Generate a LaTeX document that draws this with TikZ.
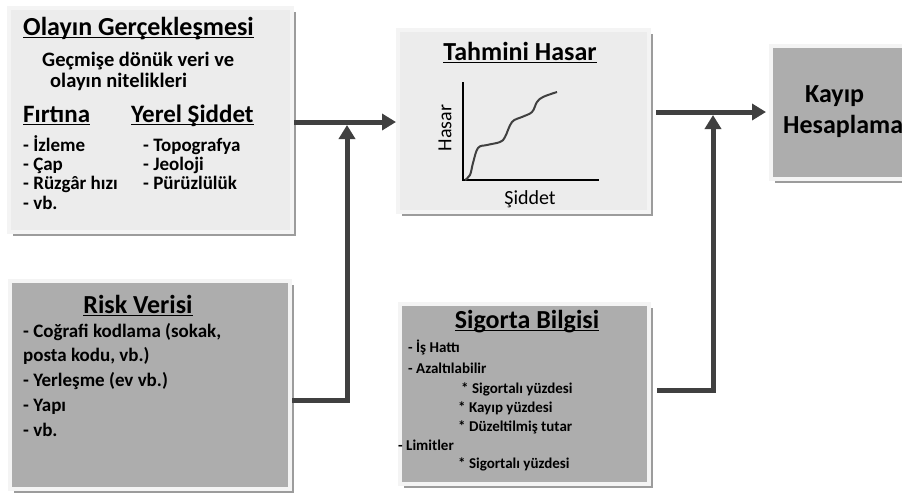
\documentclass[tikz,border=0pt]{standalone}
\usepackage{fontspec}
\setmainfont{Carlito}
\newcommand{\ulbar}[1]{\setbox0\hbox{#1}\rlap{\rule[-3.4pt]{\wd0}{1.8pt}}\box0}
\usetikzlibrary{arrows.meta,shadows}
\definecolor{boxlight}{HTML}{ECECEC}
\definecolor{boxdark}{HTML}{ADADAD}
\definecolor{boxrim}{HTML}{F4F4F4}
\definecolor{boxshade}{HTML}{9C9C9C}
\definecolor{flowgray}{HTML}{404040}
\pgfkeys{tikz/infobox/.style={rectangle, draw=boxrim, line width=4pt, inner sep=0pt,
                                  drop shadow={fill=boxshade, opacity=1, shadow xshift=4pt, shadow yshift=-4pt}}}
\pgfkeys{tikz/flow/.style={draw=flowgray, line width=5pt, -{Triangle[length=14pt,width=16pt]}}}
\pgfkeys{tikz/ttl/.style={anchor=base west, inner sep=0pt, font=\fontsize{26}{30}\selectfont\bfseries}}
\pgfkeys{tikz/cttl/.style={anchor=base, inner sep=0pt, font=\fontsize{26}{30}\selectfont\bfseries}}
\pgfkeys{tikz/hdr/.style={anchor=base west, inner sep=0pt, font=\fontsize{25}{29}\selectfont\bfseries}}
\pgfkeys{tikz/sub/.style={anchor=base west, inner sep=0pt, font=\fontsize{20.5}{24}\selectfont\bfseries}}
\pgfkeys{tikz/itm/.style={anchor=base west, inner sep=0pt, font=\fontsize{19}{22}\selectfont\bfseries}}
\pgfkeys{tikz/ritm/.style={anchor=base west, inner sep=0pt, font=\fontsize{19}{22}\selectfont\bfseries}}
\pgfkeys{tikz/sitm/.style={anchor=base west, inner sep=0pt, font=\fontsize{15}{18}\selectfont\bfseries}}
\pgfkeys{tikz/axlbl/.style={inner sep=0pt, font=\fontsize{20}{23}\selectfont}}

\begin{document}
\begin{tikzpicture}[x=1pt, y=-1pt]
                \useasboundingbox (0,0) rectangle (902,498);

                \node[infobox, fill=boxlight, minimum width=283pt, minimum height=224pt] (top) at (150.5,120) {};
                \node[infobox, fill=boxdark, minimum width=280pt, minimum height=208pt] (risk) at (150,385) {};
                \node[infobox, fill=boxlight, minimum width=251pt, minimum height=182pt] (hasar) at (523.5,121) {};
                \node[infobox, fill=boxdark, minimum width=200pt, minimum height=133pt] (kayip) at (871,112.5) {};
                \node[infobox, fill=boxdark, minimum width=249pt, minimum height=180pt] (sigorta) at (524.5,394) {};

                \node[ttl] (n1) at (23,35) {\ulbar{Olayın Gerçekleşmesi}};
                \node[sub] (n2) at (42,66) {Geçmişe dönük veri ve};
                \node[sub] (n3) at (50,87) {olayın nitelikleri};
                \node[hdr] (n4) at (23,122) {\ulbar{Fırtına}};
                \node[hdr] (n5) at (131,122) {\ulbar{Yerel Şiddet}};
                \node[itm] (n6) at (23,151) {- İzleme};
                \node[itm] (n7) at (23,170) {- Çap};
                \node[itm] (n8) at (23,189) {- Rüzgâr hızı};
                \node[itm] (n9) at (23,209) {- vb.};
                \node[itm] (n10) at (143,151) {- Topografya};
                \node[itm] (n11) at (143,170) {- Jeoloji};
                \node[itm] (n12) at (143,189) {- Pürüzlülük};

                \node[cttl] (n13) at (138,313) {\ulbar{Risk Verisi}};
                \node[ritm] (n14) at (23,337) {- Coğrafi kodlama (sokak,};
                \node[ritm] (n15) at (23,361) {posta kodu, vb.)};
                \node[ritm] (n16) at (23,386) {- Yerleşme (ev vb.)};
                \node[ritm] (n17) at (23,411) {- Yapı};
                \node[ritm] (n18) at (23,436) {- vb.};

                \node[cttl] (n19) at (520,60) {\ulbar{Tahmini Hasar}};
                \draw[black, line width=1.5pt] (463,82) -- (463,180) -- (599,180);
                \draw[flowgray, line width=2pt] plot[smooth, tension=0.6] coordinates {(465,180) (470,175) (473,163) (478,148) (487,145) (500,142) (505,137) (512,122) (522,117) (532,112) (537,102) (543,97) (557,92)};
                \node[axlbl, rotate=90] (n20) at (445,128) {Hasar};
                \node[axlbl] (n21) at (530,199) {Şiddet};

                \node[ttl] (n22) at (805,102) {Kayıp};
                \node[ttl] (n23) at (783,133) {Hesaplama};

                \node[cttl] (n24) at (527,328) {\ulbar{Sigorta Bilgisi}};
                \node[sitm] (n25) at (408,352) {- İş Hattı};
                \node[sitm] (n26) at (408,373) {- Azaltılabilir};
                \node[sitm] (n27) at (461,393) {* Sigortalı yüzdesi};
                \node[sitm] (n28) at (458,412) {* Kayıp yüzdesi};
                \node[sitm] (n29) at (458,431) {* Düzeltilmiş tutar};
                \node[sitm] (n30) at (398,450) {- Limitler};
                \node[sitm] (n31) at (458,468) {* Sigortalı yüzdesi};

                \coordinate (j1) at (347,122);
                \coordinate (j1b) at (347,125);
                \coordinate (k1) at (347,400);
                \coordinate (j2) at (713,112);
                \coordinate (j2b) at (713,115);
                \coordinate (k2) at (713,390);

                \draw[flow] (top.east |- j1) -- (hasar.west |- j1);
                \draw[flow] (risk.east |- k1) -- (k1) -- (j1b);
                \draw[flow, shorten <=5pt, shorten >=3pt] (hasar.east |- j2) -- (kayip.west |- j2);
                \draw[flow, shorten <=6pt] (sigorta.east |- k2) -- (k2) -- (j2b);

            \end{tikzpicture}
\end{document}
